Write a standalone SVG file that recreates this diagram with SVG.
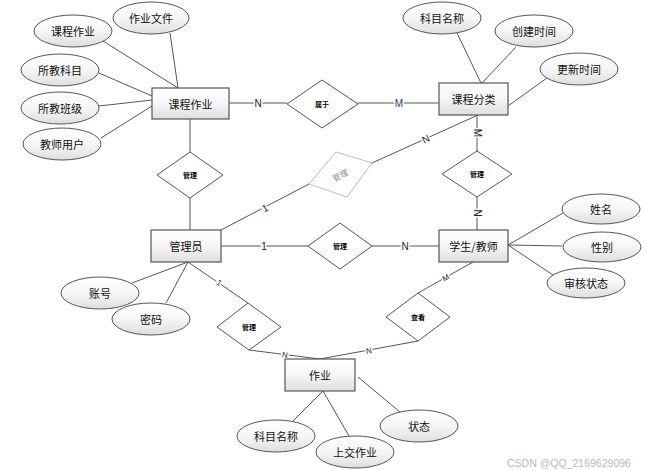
<svg xmlns="http://www.w3.org/2000/svg" width="646" height="470" viewBox="0 0 646 470">
<defs>
<linearGradient id="g" x1="0" y1="0" x2="0" y2="1">
<stop offset="0" stop-color="#ffffff"/>
<stop offset="0.5" stop-color="#f6f6f6"/>
<stop offset="1" stop-color="#dedede"/>
</linearGradient>
<style>
.ent{fill:url(#g);stroke:#555;stroke-width:1.2}
.att{fill:url(#g);stroke:#555;stroke-width:1}
.rel{fill:#fff;stroke:#555;stroke-width:1}
.relg{fill:#fff;stroke:#bbb;stroke-width:1}
.ln{stroke:#555;stroke-width:1;fill:none}
text{font-family:"Noto Sans CJK SC","Liberation Sans",sans-serif;text-anchor:middle;dominant-baseline:central}
.t{font-size:11px;fill:#111}
.rt{font-size:7px;font-weight:bold;fill:#000}
.lb{font-family:"Liberation Sans",sans-serif;font-size:10px;fill:#222;stroke:#fff;stroke-width:3;paint-order:stroke}
.wm{font-family:"Liberation Sans",sans-serif;font-size:10.5px;fill:#bbb;text-anchor:start}
</style>
</defs>
<rect width="646" height="470" fill="#fff"/>
<g id="connectors">
<line class="ln" x1="103" y1="41" x2="178" y2="88"/>
<line class="ln" x1="170" y1="33" x2="178" y2="88"/>
<line class="ln" x1="99" y1="73" x2="152" y2="96"/>
<line class="ln" x1="99" y1="106" x2="152" y2="100"/>
<line class="ln" x1="101" y1="138" x2="152" y2="106"/>
<line class="ln" x1="457" y1="33" x2="481" y2="83"/>
<line class="ln" x1="516" y1="47" x2="482" y2="83"/>
<line class="ln" x1="547" y1="78" x2="508" y2="106"/>
<line class="ln" x1="229" y1="103" x2="287" y2="103"/>
<line class="ln" x1="358" y1="103" x2="439" y2="103"/>
<line class="ln" x1="477" y1="115" x2="477" y2="151"/>
<line class="ln" x1="477" y1="197" x2="477" y2="230"/>
<line class="ln" x1="478" y1="115" x2="372" y2="163"/>
<line class="ln" x1="309" y1="184" x2="221" y2="230"/>
<line class="ln" x1="190" y1="119" x2="190" y2="152"/>
<line class="ln" x1="190" y1="198" x2="190" y2="230"/>
<line class="ln" x1="221" y1="246" x2="308" y2="246"/>
<line class="ln" x1="372" y1="246" x2="439" y2="246"/>
<line class="ln" x1="508" y1="245" x2="563" y2="213"/>
<line class="ln" x1="508" y1="245" x2="562" y2="246"/>
<line class="ln" x1="508" y1="245" x2="553" y2="275"/>
<line class="ln" x1="188" y1="262" x2="132" y2="283"/>
<line class="ln" x1="188" y1="262" x2="166" y2="303"/>
<line class="ln" x1="188" y1="262" x2="248" y2="303"/>
<line class="ln" x1="249" y1="350" x2="320" y2="359"/>
<line class="ln" x1="473" y1="262" x2="418" y2="293"/>
<line class="ln" x1="418" y1="341" x2="320" y2="359"/>
<line class="ln" x1="323" y1="391" x2="293" y2="421"/>
<line class="ln" x1="323" y1="391" x2="349" y2="436"/>
<line class="ln" x1="358" y1="377" x2="400" y2="412"/>
<text class="lb" x="258" y="103">N</text>
<text class="lb" x="399" y="103" style="fill:#1f3a7a">M</text>
<text class="lb" x="477" y="133" transform="rotate(90 477 133)">M</text>
<text class="lb" x="477" y="213" transform="rotate(90 477 213)">N</text>
<text class="lb" x="426" y="139" transform="rotate(-24 426 139)">N</text>
<text class="lb" x="265" y="208" transform="rotate(-28 265 208)">1</text>
<text class="lb" x="264" y="246">1</text>
<text class="lb" x="405" y="246">N</text>
<text class="lb" x="219" y="283" transform="rotate(34 219 283)" style="font-size:8px">1</text>
<text class="lb" x="285" y="355" transform="rotate(7 285 355)" style="font-size:8px">N</text>
<text class="lb" x="369" y="351" transform="rotate(-10 369 351)" style="font-size:8px">N</text>
<text class="lb" x="446" y="278" transform="rotate(-30 446 278)" style="font-size:8px">M</text>
</g>
<g id="e-kczy"><rect class="ent" x="152" y="88" width="77" height="31"/><text class="t" x="190.5" y="103.5">课程作业</text></g>
<g id="e-kcfl"><rect class="ent" x="439" y="83" width="69" height="32"/><text class="t" x="473.5" y="99">课程分类</text></g>
<g id="e-gly"><rect class="ent" x="151" y="230" width="70" height="32"/><text class="t" x="186" y="246">管理员</text></g>
<g id="e-xsjs"><rect class="ent" x="439" y="230" width="69" height="32"/><text class="t" x="473.5" y="246">学生/教师</text></g>
<g id="e-zy"><rect class="ent" x="285" y="359" width="70" height="32"/><text class="t" x="320" y="375">作业</text></g>
<g id="a1"><ellipse class="att" cx="73" cy="31" rx="39" ry="16"/><text class="t" x="73" y="31">课程作业</text></g>
<g id="a2"><ellipse class="att" cx="151" cy="18" rx="38" ry="16"/><text class="t" x="151" y="18">作业文件</text></g>
<g id="a3"><ellipse class="att" cx="60" cy="70" rx="39" ry="16"/><text class="t" x="60" y="70">所教科目</text></g>
<g id="a4"><ellipse class="att" cx="60" cy="108" rx="39" ry="16"/><text class="t" x="60" y="108">所教班级</text></g>
<g id="a5"><ellipse class="att" cx="62" cy="144" rx="39" ry="16"/><text class="t" x="62" y="144">教师用户</text></g>
<g id="a6"><ellipse class="att" cx="442" cy="18" rx="39" ry="16"/><text class="t" x="442" y="18">科目名称</text></g>
<g id="a7"><ellipse class="att" cx="534" cy="31" rx="39" ry="16"/><text class="t" x="534" y="31">创建时间</text></g>
<g id="a8"><ellipse class="att" cx="579" cy="69" rx="39" ry="16"/><text class="t" x="579" y="69">更新时间</text></g>
<g id="a9"><ellipse class="att" cx="601" cy="209" rx="39" ry="15"/><text class="t" x="601" y="209">姓名</text></g>
<g id="a10"><ellipse class="att" cx="602" cy="247" rx="39" ry="15"/><text class="t" x="602" y="247">性别</text></g>
<g id="a11"><ellipse class="att" cx="586" cy="283" rx="39" ry="15"/><text class="t" x="586" y="283">审核状态</text></g>
<g id="a12"><ellipse class="att" cx="100" cy="293" rx="39" ry="16"/><text class="t" x="100" y="293">账号</text></g>
<g id="a13"><ellipse class="att" cx="151" cy="319" rx="39" ry="16"/><text class="t" x="151" y="319">密码</text></g>
<g id="a14"><ellipse class="att" cx="276" cy="436" rx="39" ry="16"/><text class="t" x="276" y="436">科目名称</text></g>
<g id="a15"><ellipse class="att" cx="355" cy="452" rx="39" ry="16"/><text class="t" x="355" y="452">上交作业</text></g>
<g id="a16"><ellipse class="att" cx="419" cy="426" rx="39" ry="16"/><text class="t" x="419" y="426">状态</text></g>
<g id="r-sy"><polygon class="rel" points="287,104 322,80 358,104 322,128"/><text class="rt" x="322" y="104">属于</text></g>
<g id="r-gl1"><polygon class="rel" points="157,175 190,152 223,175 190,198"/><text class="rt" x="190" y="175">管理</text></g>
<g id="r-gl2"><polygon class="rel" points="442,174 477,151 512,174 477,197"/><text class="rt" x="477" y="174">管理</text></g>
<g id="r-gl3"><polygon class="relg" points="336,152 372,163 347,197 309,184"/><text class="rt" x="340" y="175" transform="rotate(-28 340 175)" style="fill:#888;font-weight:normal;font-size:8px">管理</text></g>
<g id="r-gl4"><polygon class="rel" points="308,246 340,223 372,246 340,269"/><text class="rt" x="340" y="246">管理</text></g>
<g id="r-gl5"><polygon class="rel" points="217,327 248,303 281,327 249,350"/><text class="rt" x="249" y="327">管理</text></g>
<g id="r-ck"><polygon class="rel" points="386,317 418,293 450,317 418,341"/><text class="rt" x="418" y="317">查看</text></g>
<text class="wm" x="507" y="463">CSDN @QQ_2169629096</text>
</svg>
